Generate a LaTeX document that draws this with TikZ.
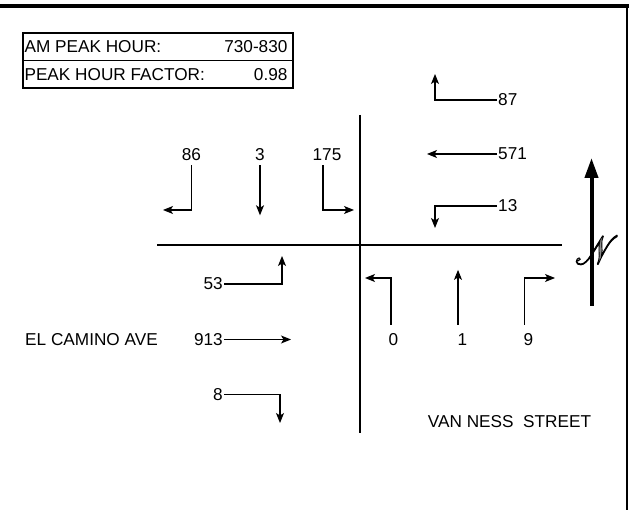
\documentclass[tikz,border=0pt]{standalone}
\usepackage{fontspec}
\setmainfont{Liberation Sans}
\usepackage{mathrsfs}
\usepackage{graphicx}
\usetikzlibrary{arrows.meta}
\begin{document}
\begin{tikzpicture}[x=1pt,y=-1pt,
  lab/.style={font=\fontsize{17.2}{20}\selectfont, inner sep=1pt},
  infobox/.style={draw, line width=1.3pt, minimum width=270pt, minimum height=27.5pt, inner sep=0pt},
  mv/.style={line width=1.1pt, -{Stealth[length=10pt,width=8pt,inset=2.5pt]}},
  street/.style={line width=2pt},
  northarrow/.style={line width=4pt, -{Triangle[length=20pt,width=13pt]}},
  nsymbol/.style={inner sep=0pt, text=black!45},
]
\useasboundingbox (0,0) rectangle (629,510);
% frame
\coordinate (tl) at (0,6);
\coordinate (tr) at (629,6);
\coordinate (rt) at (627,5);
\coordinate (rb) at (627,510);
\draw[line width=4pt] (tl) -- (tr);
\draw[line width=2pt] (rt) -- (rb);

% info box
\node[infobox] (row1) at (158,46.75) {};
\node[infobox] (row2) at (158,74.25) {};
\node[lab, anchor=west] (amlab) at ([xshift=1pt]row1.west) {AM PEAK HOUR:};
\node[lab, anchor=east] (amval) at ([xshift=-5pt]row1.east) {730-830};
\node[lab, anchor=west] (pflab) at ([xshift=1pt]row2.west) {PEAK HOUR FACTOR:};
\node[lab, anchor=east] (pfval) at ([xshift=-5pt]row2.east) {0.98};

% streets
\coordinate (ew1) at (157,245);
\coordinate (ew2) at (562,245);
\coordinate (ns1) at (360,115);
\coordinate (ns2) at (360,433);
\draw[street] (ew1) -- (ew2);
\draw[street] (ns1) -- (ns2);

% north leg (southbound)
\node[lab] (l86) at (191.5,155) {86};
\node[lab] (l3) at (260,155) {3};
\node[lab] (l175) at (327,155) {175};
\coordinate (t86) at (163,210);
\coordinate (t175) at (354,210);
\draw[mv] ([shift={(0,3)}]l86.south) |- (t86);
\draw[mv] ([shift={(0,3)}]l3.south) -- ++(0,50);
\draw[mv] ([shift={(-4,3)}]l175.south) |- (t175);

% east leg (westbound)
\node[lab, anchor=west] (l87) at (497,100) {87};
\node[lab, anchor=west] (l571) at (497,154) {571};
\node[lab, anchor=west] (l13) at (497,206) {13};
\coordinate (t87) at (435,74);
\coordinate (t571) at (427,154);
\coordinate (t13) at (435,228);
\draw[mv] (l87.west) -| (t87);
\draw[mv] (l571.west) -- (t571);
\draw[mv] (l13.west) -| (t13);

% west leg (eastbound)
\node[lab, anchor=east] (l53) at (224,284) {53};
\node[lab, anchor=east] (l913) at (224,339.5) {913};
\node[lab, anchor=east] (l8) at (224,394.5) {8};
\coordinate (t53) at (282,256);
\coordinate (t913) at (291,339.5);
\coordinate (t8) at (280,423);
\draw[mv] (l53.east) -| (t53);
\draw[mv] (l913.east) -- (t913);
\draw[mv] (l8.east) -| (t8);
\node[lab] (elcamino) at (91.5,340) {EL CAMINO AVE};

% south leg (northbound)
\node[lab] (l0) at (393.5,340) {0};
\node[lab] (l1) at (462.5,340) {1};
\node[lab] (l9) at (528.5,340) {9};
\coordinate (t0) at (365,278);
\coordinate (t9) at (555,278);
\draw[mv] ([shift={(-2.5,-8)}]l0.north) |- (t0);
\draw[mv] ([shift={(-4.5,-8)}]l1.north) -- ++(0,-55);
\draw[mv] ([shift={(-4,-8)}]l9.north) |- (t9);
\node[lab] (vanness) at (509.5,421.5) {VAN NESS\ \ STREET};

% north arrow
\coordinate (na1) at (591.5,306);
\coordinate (na2) at (591.5,158);
\draw[northarrow] (na1) -- (na2);
\node[nsymbol] (nsym) at (597,250) {\scalebox{3.5}[4.0]{\special{pdf:literal 0 G 2 Tr 0.25 w}$\mathscr{N}$\special{pdf:literal 0 Tr}}};
\end{tikzpicture}
\end{document}
